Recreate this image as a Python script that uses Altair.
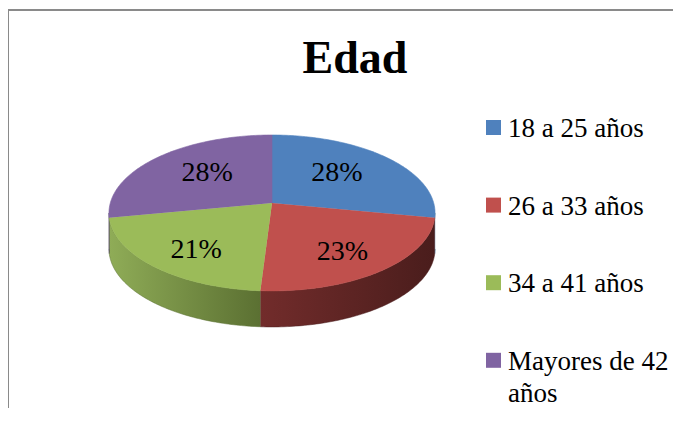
import altair as alt
import pandas as pd

# ---- data ----
titulo = "Edad"
categorias = ["18 a 25 años", "26 a 33 años", "34 a 41 años", "Mayores de 42 años"]
porcentajes = [28, 23, 21, 28]
orden = [0, 1, 2, 3]

# ---- styles ----
colores = ["#4f81bd", "#c0504d", "#9bbb59", "#8064a2"]
lados = [("#3d6594", "#2b4a6f"), ("#722c2b", "#4a1d1c"), ("#8fac57", "#5b7032"), ("#634b80", "#48375e")]
FONT = "Liberation Serif"

df = pd.DataFrame({"categoria": categorias, "valor": porcentajes, "orden": orden})

# geometry (page pixels) - simple perspective projection of a tilted disc
CX, CY = 272, 203
R, RK, P = 161.7, 76.7, 0.128
DEPTH = 36
N = 90
W, H = 665, 400

xs = alt.Scale(domain=[8, 8 + W], nice=False, zero=False)
ys = alt.Scale(domain=[8, 8 + H], nice=False, zero=False, reverse=True)
cs = alt.Scale(domain=categorias, range=colores)

base = alt.Chart(df).transform_joinaggregate(
    total="sum(valor)"
).transform_window(
    cum="sum(valor)", sort=[alt.SortField("orden")], frame=[None, 0]
).transform_calculate(
    a0="2*PI*(datum.cum - datum.valor)/datum.total",
    a1="2*PI*datum.cum/datum.total",
)

def proj_x(t):
    return f"{CX} + {R}*sin({t})/(1 + {P}*cos({t}))"

def proj_y(t):
    return f"{CY} - {RK}*cos({t})/(1 + {P}*cos({t}))"

# top face
top = base.transform_calculate(
    idx=f"sequence(0, {N + 2})"
).transform_flatten(["idx"]).transform_calculate(
    t=f"datum.a0 + (datum.a1 - datum.a0) * min(datum.idx, {N}) / {N}"
).transform_calculate(
    px=f"datum.idx > {N} ? {CX} : {proj_x('datum.t')}",
    py=f"datum.idx > {N} ? {CY} : {proj_y('datum.t')}",
).mark_line(strokeWidth=0.6).encode(
    x=alt.X("px:Q", scale=xs, axis=None),
    y=alt.Y("py:Q", scale=ys, axis=None),
    fill=alt.Fill("categoria:N", scale=cs, legend=None),
    stroke=alt.Stroke("categoria:N", scale=cs, legend=None),
    order=alt.Order("idx:Q"),
)

# side walls (visible part of the rim)
sides_base = base.transform_calculate(
    s0=f"max(datum.a0, acos(-{P}))", s1=f"min(datum.a1, 2*PI - acos(-{P}))"
).transform_filter("datum.s1 > datum.s0").transform_calculate(
    idx=f"sequence(0, {2 * N + 2})"
).transform_flatten(["idx"]).transform_calculate(
    k=f"datum.idx <= {N} ? datum.idx/{N} : 1 - (datum.idx - {N + 1})/{N}"
).transform_calculate(
    t="datum.s0 + (datum.s1 - datum.s0)*datum.k"
).transform_calculate(
    px=proj_x("datum.t"),
    py=f"{proj_y('datum.t')} + (datum.idx > {N} ? {DEPTH} : 0)",
)

side_layers = []
for cat, (c1, c2) in zip(categorias, lados):
    grad = alt.LinearGradient(
        gradient="linear",
        stops=[alt.GradientStop(color=c1, offset=0), alt.GradientStop(color=c2, offset=1)],
        x1=0, x2=1, y1=0, y2=0,
    )
    side_layers.append(
        sides_base.transform_filter(alt.datum.categoria == cat).mark_line(
            fill=grad, stroke=c2, strokeWidth=0.5
        ).encode(
            x=alt.X("px:Q", scale=xs, axis=None),
            y=alt.Y("py:Q", scale=ys, axis=None),
            order=alt.Order("idx:Q"),
        )
    )

# percentage labels
labels = base.transform_calculate(
    m="(datum.a0 + datum.a1)/2"
).transform_calculate(
    f="cos(datum.m) > 0 ? 0.52 : 0.71",
    lyr="cos(datum.m) > 0 ? 90 : 88",
).transform_calculate(
    lx=f"{CX} + datum.f*{R}*sin(datum.m)",
    ly=f"{CY} - datum.f*datum.lyr*cos(datum.m)",
    txt="round(100*datum.valor/datum.total) + '%'",
).mark_text(font=FONT, fontSize=28, color="#000000", align="center", baseline="middle").encode(
    x=alt.X("lx:Q", scale=xs, axis=None),
    y=alt.Y("ly:Q", scale=ys, axis=None),
    text="txt:N",
)

# legend
leg = alt.Chart(df).transform_calculate(
    sx="493.5", sy="127.5 + datum.orden*77.6", tx="508", ty="137 + datum.orden*77.6",
    lab="length(datum.categoria) > 15 ? slice(datum.categoria, 0, lastindexof(datum.categoria, ' ')) + '\\n' + slice(datum.categoria, lastindexof(datum.categoria, ' ') + 1) : datum.categoria",
)
leg_sq = leg.mark_square(size=225, opacity=1).encode(
    x=alt.X("sx:Q", scale=xs, axis=None),
    y=alt.Y("sy:Q", scale=ys, axis=None),
    fill=alt.Fill("categoria:N", scale=cs, legend=None),
)
leg_tx = leg.mark_text(
    font=FONT, fontSize=27, color="#000000", align="left", baseline="alphabetic",
    lineBreak="\n", lineHeight=32,
).encode(
    x=alt.X("tx:Q", scale=xs, axis=None),
    y=alt.Y("ty:Q", scale=ys, axis=None),
    text="lab:N",
)

# title
title = alt.Chart(pd.DataFrame({"t": [titulo]})).mark_text(
    font=FONT, fontSize=46, fontWeight="bold", color="#000000", align="center", baseline="alphabetic"
).encode(x=alt.value(355 - 8), y=alt.value(73 - 8), text="t:N")

# chart border (top and left edges visible)
borde_top = alt.Chart(pd.DataFrame({"a": [0]})).mark_rule(color="#8a8a8a", strokeWidth=2).encode(
    x=alt.value(0), x2=alt.value(W + 10), y=alt.value(2), y2=alt.value(2)
)
borde_left = alt.Chart(pd.DataFrame({"a": [0]})).mark_rule(color="#8a8a8a", strokeWidth=2).encode(
    x=alt.value(0), x2=alt.value(0), y=alt.value(1), y2=alt.value(H + 10)
)

chart = alt.layer(
    borde_top, borde_left, *side_layers, top, labels, leg_sq, leg_tx, title
).properties(
    width=W, height=H, autosize=alt.AutoSizeParams(type="none"), padding=0
).configure_view(stroke=None)

chart.save("out.html", embed_options={"renderer": "svg", "actions": False})
